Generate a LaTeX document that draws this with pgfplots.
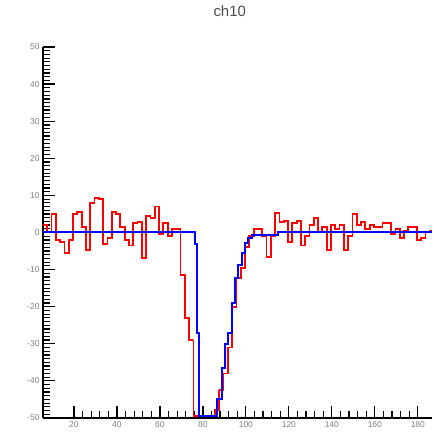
\documentclass[border=0pt]{standalone}
\usepackage{pgfplots}
\pgfplotsset{compat=1.18}
\usepackage{fontspec}
\setmainfont{Liberation Sans}

\begin{document}
\begin{tikzpicture}
\begin{axis}[
    name=ax,
    set layers,
    width=389bp, height=371bp, scale only axis,
    xmin=5.6, xmax=186.6, ymin=-50, ymax=50,
    clip=false,
    axis lines*=left,
    axis line style={line width=1.6bp, black},
    xtick={20,40,...,180}, minor x tick num=4,
    ytick={-50,-40,...,50}, minor y tick num=9,
    tick align=inside,
    major tick length=12bp, minor tick length=7bp,
    tick style={black, line width=1.2bp},
    ticklabel style={font=\fontsize{8.5}{9}\selectfont, text=black!50},
    /pgf/number format/assume math mode=true,
    title={ch10},
    title style={at={(0.48,1.08)}, anchor=center, font=\fontsize{15}{16}\selectfont, text=black!70},
]
% measured signal (red histogram), baseline part
\addplot[const plot, red, line width=1.8bp] coordinates {
 (5.6,2) (7.6,0) (9.6,5) (11.6,-2) (13.6,-2.5) (15.6,-5.5) (17.6,-2) (19.6,5)
 (21.6,5.5) (23.6,1.5) (25.6,-4.7) (27.6,8) (29.6,9.3) (31.6,9) (33.6,-3) (35.6,-1.5)
 (37.6,5.5) (39.6,5) (41.6,1.5) (43.6,-2) (45.6,-3.5) (47.6,2.5) (49.6,2.8) (51.6,-6.9)
 (53.6,4.5) (55.6,4) (57.6,7) (59.6,-0.5) (61.6,2.5) (63.6,-1) (65.6,1) (67.6,1)
 (69.6,-11.5) (71.6,-23) (73.6,-29) (75.6,-29)
};
% measured signal, pulse bins (drawn as explicit steps)
\addplot[sharp plot, red, line width=1.8bp] coordinates {
 (75.6,-29) (75.6,-49.5) (85.6,-49.5) (85.6,-47.8) (87.6,-47.8) (87.6,-42.5)
};
\addplot[const plot, red, line width=1.8bp] coordinates {
 (87.6,-42.5) (89.6,-38) (91.6,-31) (93.6,-20) (95.6,-12.3) (97.6,-9.6) (99.6,-4)
 (101.6,-1) (103.6,1) (105.6,1) (107.6,-1) (109.6,-6.6) (111.6,-1) (113.6,5.2) (115.6,2.8)
 (117.6,3) (119.6,-2.5) (121.6,2.5) (123.6,3) (125.6,-3.5) (127.6,-1) (129.6,2) (131.6,4)
 (133.6,0) (135.6,1.5) (137.6,-4.7) (139.6,2) (141.6,1) (143.6,2) (145.6,-4.7) (147.6,-1)
 (149.6,5) (151.6,2) (153.6,2.8) (155.6,1) (157.6,2) (159.6,1.5) (161.6,1.5) (163.6,2.5)
 (165.6,2.5) (167.6,-0.5) (169.6,1) (171.6,-1.5) (173.6,0.5) (175.6,1.5) (177.6,1.5) (179.6,-2)
 (181.6,-1.5) (183.6,0) (185.6,0.5) (186.6,0.5)
};
% template (blue)
\addplot[const plot, blue, line width=2bp] coordinates {
 (5.6,0) (76.3,-3) (77.2,-27) (78.2,-49.5) (86.5,-45) (88.9,-36.5) (90.3,-30) (91.6,-27)
 (93.5,-19) (94.9,-12.3) (96.3,-8.8) (98.2,-5.5) (99.6,-2.8) (101,-1.5) (102.8,-0.7)
 (114.9,0) (186.6,0)
};
\end{axis}
\pgfresetboundingbox
\path ([xshift=-43bp,yshift=-14bp]ax.south west) rectangle ++(434bp,432bp);
\end{tikzpicture}
\end{document}
